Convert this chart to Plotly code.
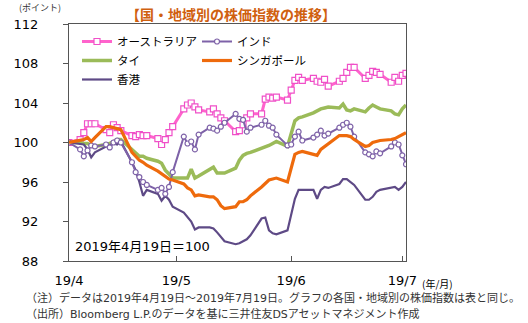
import pandas as pd
import plotly.graph_objects as go

# trading days 2019-04-19 .. 2019-07-19
dates = pd.bdate_range("2019-04-19", "2019-07-19")

australia = [100.0,
             100.3, 101.0, 101.9, 101.9, 101.9,
             101.3, 101.0, 101.8, 101.5, 101.2,
             100.7, 100.6, 100.8, 100.7, 100.7,
             100.4, 99.8, 100.3, 101.0, 101.6,
             103.4, 103.8, 104.0, 103.6, 103.3,
             103.1, 103.4, 102.9, 102.5, 102.2,
             101.1, 101.2, 101.8, 102.5, 102.9,
             102.9, 104.4, 104.6, 104.5, 104.6,
             104.3, 105.3, 106.3, 106.6, 106.3,
             106.5, 106.2, 106.1, 106.4, 105.7,
             106.2, 106.5, 107.1, 107.6, 107.6,
             106.5, 106.8, 107.2, 107.1, 106.9,
             106.1, 106.6, 106.2, 106.8, 107.0]

india = [100.0,
         99.3, 98.6, 99.2, 99.7, 99.6,
         99.8, 99.5, 100.0, 100.2, 100.0,
         98.0, 97.0, 96.5, 96.0, 95.7,
         95.2, 95.4, 94.8, 95.5, 97.0,
         100.6, 99.9, 100.1, 99.3, 100.8,
         101.5, 101.4, 101.2, 101.6, 102.0,
         102.9, 102.4, 102.3, 101.1, 101.5,
         101.8, 102.2, 101.7, 101.5, 100.8,
         99.7, 99.8, 100.6, 101.1, 100.2,
         100.5, 100.8, 101.2, 100.7, 100.9,
         101.5, 101.8, 102.0, 101.6, 100.6,
         99.0, 98.8, 98.6, 99.1, 98.9,
         99.6, 100.0, 99.8, 98.7, 97.8]

thailand = [100.0,
            100.0, 99.9, 99.9, 99.7, 99.6,
            99.8, 99.9, 100.1, 100.3, 100.3,
            99.3, 98.9, 98.6, 98.6, 98.4,
            98.1, 97.9, 97.2, 96.8, 96.4,
            96.4, 96.4, 97.3, 96.4, 96.6,
            97.2, 97.5, 96.9, 96.9, 96.9,
            97.4, 98.2, 98.7, 98.9, 99.0,
            99.4, 99.6, 99.7, 99.9, 100.1,
            99.6, 100.8, 102.2, 102.5, 102.6,
            103.0, 103.2, 103.4, 103.5, 103.6,
            103.5, 103.9, 103.3, 103.2, 103.4,
            103.1, 103.5, 103.8, 103.6, 103.4,
            103.2, 102.9, 102.8, 103.4, 103.8]

singapore = [100.0,
             100.2, 100.3, 100.5, 100.1, 100.5,
             101.6, 101.6, 101.5, 101.4, 101.3,
             99.0, 98.6, 98.2, 98.0, 97.7,
             97.1, 96.8, 96.5, 96.3, 96.2,
             95.8, 95.4, 95.2, 94.6, 94.7,
             94.5, 94.5, 94.2, 93.6, 93.3,
             93.5, 94.0, 94.0, 94.2, 94.6,
             95.5, 95.9, 96.2, 96.3, 96.4,
             96.0, 97.5, 98.8, 99.0, 99.1,
             98.8, 98.7, 99.3, 99.6, 99.9,
             100.7, 100.7, 100.7, 100.6, 100.3,
             99.6, 99.7, 100.0, 100.1, 100.2,
             100.3, 100.4, 100.6, 100.8, 101.0]

hongkong = [100.0,
            99.9, 99.8, 99.3, 98.5, 99.0,
            99.6, 99.7, 99.9, 99.8, 100.1,
            98.0, 97.2, 96.0, 94.6, 95.2,
            94.8, 94.1, 94.6, 94.2, 93.5,
            92.9, 92.5, 92.0, 91.2, 91.4,
            91.4, 91.3, 90.9, 90.4, 90.0,
            89.7, 89.8, 90.0, 90.2, 90.6,
            92.3, 92.4, 91.1, 90.8, 90.7,
            91.1, 92.7, 94.3, 95.2, 95.2,
            95.2, 94.3, 95.2, 95.5, 95.4,
            95.8, 96.3, 96.3, 96.0, 95.7,
            94.2, 94.2, 94.5, 95.0, 95.2,
            95.4, 95.5, 95.2, 95.5, 96.0]

tick_dates = ["2019-04-19", "2019-05-18", "2019-06-18", "2019-07-18"]
tick_labels = ["19/4", "19/5", "19/6", "19/7"]
y_ticks = [88, 92, 96, 100, 104, 108, 112]

FONT = "DejaVu Sans, Noto Sans CJK JP, sans-serif"
JFONT = "Noto Sans CJK JP, sans-serif"

fig = go.Figure()

fig.add_trace(go.Scatter(
    x=dates, y=australia, name="オーストラリア", mode="lines+markers",
    line=dict(color="#FF63CC", width=3),
    marker=dict(symbol="square", size=6, color="white",
                line=dict(color="#F050C8", width=1.2)),
    legend="legend"))
fig.add_trace(go.Scatter(
    x=dates, y=thailand, name="タイ", mode="lines",
    line=dict(color="#9BBB59", width=3.5), legend="legend"))
fig.add_trace(go.Scatter(
    x=dates, y=hongkong, name="香港", mode="lines",
    line=dict(color="#5E4A86", width=2.2), legend="legend"))
fig.add_trace(go.Scatter(
    x=dates, y=india, name="インド", mode="lines+markers",
    line=dict(color="#7E62A8", width=2),
    marker=dict(symbol="circle", size=5, color="white",
                line=dict(color="#7E62A8", width=1.2)),
    legend="legend2"))
fig.add_trace(go.Scatter(
    x=dates, y=singapore, name="シンガポール", mode="lines",
    line=dict(color="#EE6A0C", width=3.2), legend="legend2"))

L, R, T, B = 69, 122, 24, 62
W, H = 528, 323
pw, ph = W - L - R, H - T - B


def px(x):
    return (x - L) / pw


def py(y):
    return (H - B - y) / ph


leg_common = dict(bgcolor="rgba(0,0,0,0)", borderwidth=0,
                  font=dict(family=JFONT, size=11.5, color="#000000"),
                  xanchor="left", yanchor="top", orientation="v",
                  tracegroupgap=0)

fig.update_layout(
    width=W, height=H,
    margin=dict(l=L, r=R, t=T, b=B),
    paper_bgcolor="white", plot_bgcolor="white",
    font=dict(family=FONT, size=13, color="#000000"),
    showlegend=True,
    legend=dict(x=px(77), y=py(27), **leg_common),
    legend2=dict(x=px(197), y=py(27), **leg_common),
    xaxis=dict(
        type="date",
        range=["2019-04-19", "2019-07-19"],
        tickvals=tick_dates, ticktext=tick_labels,
        ticks="inside", ticklen=5, tickcolor="#555555",
        showline=True, linecolor="#555555", linewidth=1, mirror=True,
        showgrid=False, zeroline=False,
        tickfont=dict(family=FONT, size=13, color="#000000"),
        ticklabelstandoff=7,
    ),
    yaxis=dict(
        range=[88, 112], tickvals=y_ticks,
        ticks="outside", ticklen=5, tickcolor="#555555",
        showline=True, linecolor="#555555", linewidth=1, mirror=True,
        showgrid=False, zeroline=False,
        tickfont=dict(family=FONT, size=13, color="#000000"),
        ticklabelstandoff=22,
    ),
    annotations=[
        dict(text="【国・地域別の株価指数の推移】", x=px(231), y=py(14),
             xref="paper", yref="paper", xanchor="center", yanchor="middle",
             showarrow=False,
             font=dict(family=JFONT, size=14, color="#D0600F", weight="bold")),
        dict(text="(ポイント)", x=px(40), y=py(8), xref="paper", yref="paper",
             xanchor="center", yanchor="middle", showarrow=False,
             font=dict(family=JFONT, size=9, color="#333333")),
        dict(text="2019年4月19日＝100", x=px(73), y=py(246), xref="paper",
             yref="paper", xanchor="left", yanchor="middle", showarrow=False,
             font=dict(family=FONT, size=13, color="#000000")),
        dict(text="(年/月)", x=px(420), y=py(283), xref="paper", yref="paper",
             xanchor="left", yanchor="middle", showarrow=False,
             font=dict(family=JFONT, size=10, color="#000000")),
        dict(text="（注）データは2019年4月19日～2019年7月19日。グラフの各国・地域別の株価指数は表と同じ。",
             x=px(24), y=py(298), xref="paper", yref="paper",
             xanchor="left", yanchor="middle", showarrow=False,
             font=dict(family=FONT, size=11, color="#333333")),
        dict(text="（出所）Bloomberg L.P.のデータを基に三井住友DSアセットマネジメント作成",
             x=px(24), y=py(314), xref="paper", yref="paper",
             xanchor="left", yanchor="middle", showarrow=False,
             font=dict(family=FONT, size=11, color="#333333")),
    ],
)

fig.write_html("out.html")
